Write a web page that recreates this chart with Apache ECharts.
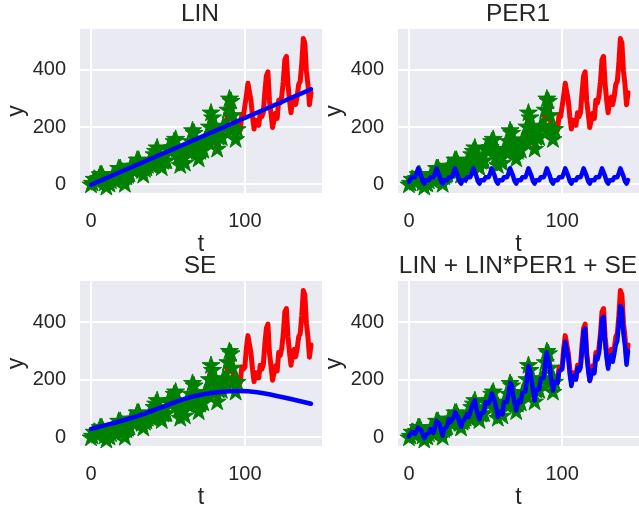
<!DOCTYPE html>
<html>
<head>
<meta charset="utf-8">
<script src="https://cdn.jsdelivr.net/npm/echarts@6/dist/echarts.min.js"></script>
<style>
  html, body { margin: 0; padding: 0; background: #fff; }
  #chart { width: 639px; height: 510px; }
</style>
</head>
<body>
<div id="chart"></div>
<script>
  // observed series (airline passengers, shifted), t = 0..143
  const observed = [
    0, 6, 20, 17, 9, 23, 36, 36, 24, 7, -8, 6,
    3, 14, 29, 23, 13, 37, 58, 58, 46, 21, 2, 28,
    33, 38, 66, 51, 60, 66, 87, 87, 72, 50, 34, 54,
    59, 68, 81, 69, 71, 106, 118, 130, 97, 79, 60, 82,
    84, 84, 124, 123, 117, 131, 152, 160, 125, 99, 68, 89,
    92, 76, 123, 115, 122, 152, 190, 181, 147, 117, 91, 117,
    130, 121, 155, 157, 158, 203, 252, 235, 200, 162, 125, 166,
    172, 165, 205, 201, 206, 262, 301, 293, 243, 194, 159, 194,
    203, 189, 244, 236, 243, 310, 353, 355, 292, 235, 193, 224,
    228, 206, 250, 236, 251, 323, 379, 393, 292, 247, 198, 225,
    248, 230, 294, 284, 308, 360, 436, 447, 351, 295, 250, 293,
    305, 279, 307, 349, 360, 423, 510, 494, 396, 349, 278, 320
  ];
  const nTrain = 96; // green stars = training part

  // predictions (blue)
  const predLinT = [0, 143];
  const predLin = [-2, 332];

  const predPer1 = [
    8, 14, 24, 20, 24, 38, 55, 52, 28, 10, 2, 14,
    18, 14, 24, 20, 24, 38, 55, 52, 28, 10, 2, 14,
    18, 14, 24, 20, 24, 38, 55, 52, 28, 10, 2, 14,
    18, 14, 24, 20, 24, 38, 55, 52, 28, 10, 2, 14,
    18, 14, 24, 20, 24, 38, 55, 52, 28, 10, 2, 14,
    18, 14, 24, 20, 24, 38, 55, 52, 28, 10, 2, 14,
    18, 14, 24, 20, 24, 38, 55, 52, 28, 10, 2, 14,
    18, 14, 24, 20, 24, 38, 55, 52, 28, 10, 2, 14,
    18, 14, 24, 20, 24, 38, 55, 52, 28, 10, 2, 14,
    18, 14, 24, 20, 24, 38, 55, 52, 28, 10, 2, 14,
    18, 14, 24, 20, 24, 38, 55, 52, 28, 10, 2, 14,
    18, 14, 24, 20, 24, 38, 55, 52, 28, 10, 2, 14
  ];

  const predSeT = [0, 12, 24, 36, 48, 60, 72, 84, 96, 108, 120, 132, 143];
  const predSe = [28, 45, 63, 84, 108, 131, 148, 157, 160, 156, 144, 130, 116];

  const predFull = [
    2, 8, 18, 16, 11, 22, 33, 34, 24, 9, -4, 7,
    5, 15, 28, 23, 15, 36, 56, 57, 45, 22, 5, 27,
    33, 39, 63, 52, 59, 67, 86, 86, 71, 50, 36, 54,
    60, 68, 80, 70, 73, 104, 118, 128, 97, 79, 62, 82,
    84, 86, 122, 121, 117, 131, 152, 158, 125, 99, 70, 89,
    92, 79, 122, 116, 122, 152, 188, 180, 146, 117, 92, 117,
    129, 122, 155, 156, 159, 202, 248, 234, 199, 162, 127, 165,
    171, 166, 203, 200, 206, 258, 295, 289, 240, 194, 162, 192,
    195, 188, 228, 226, 236, 290, 332, 335, 275, 218, 178, 205,
    215, 200, 240, 230, 242, 305, 368, 378, 285, 232, 195, 215,
    232, 222, 280, 270, 292, 345, 410, 418, 330, 278, 238, 275,
    285, 262, 290, 322, 335, 395, 456, 445, 360, 318, 252, 300
  ];

  const titles = ['LIN', 'PER1', 'SE', 'LIN + LIN*PER1 + SE'];
  const textColor = '#262626';
  const font = '"Liberation Sans", Arial, sans-serif';

  const chart = echarts.init(document.getElementById('chart'));

  const starPath = 'path://M100 0 L122.45 69.1 L195.1 69.1 L136.3 111.8 L158.8 180.9 L100 138.2 L41.2 180.9 L63.7 111.8 L4.9 69.1 L77.55 69.1 Z';

  const boxes = [
    { left: 80, top: 29, width: 242, height: 164 },
    { left: 398, top: 29, width: 242, height: 164 },
    { left: 80, top: 281, width: 242, height: 165 },
    { left: 398, top: 281, width: 242, height: 165 }
  ];

  const toPairs = (xs, ys) => ys.map((v, i) => [xs ? xs[i] : i, v]);
  const obsPairs = toPairs(null, observed);
  const trainPairs = obsPairs.slice(0, nTrain);
  const preds = [
    toPairs(predLinT, predLin),
    toPairs(null, predPer1),
    toPairs(predSeT, predSe),
    toPairs(null, predFull)
  ];

  const grid = [], xAxis = [], yAxis = [], series = [], graphic = [];
  boxes.forEach((b, i) => {
    grid.push({ left: b.left, top: b.top, width: b.width, height: b.height,
      show: true, backgroundColor: '#EAEAF2', borderWidth: 0 });
    xAxis.push({
      gridIndex: i, type: 'value', min: -7.15, max: 150.15, splitNumber: 2,
      axisLine: { show: false }, axisTick: { show: false },
      axisLabel: { color: textColor, fontSize: 20, fontFamily: font, margin: 18,
        showMinLabel: false, showMaxLabel: false },
      splitLine: { show: true, showMinLine: false, showMaxLine: false,
        lineStyle: { color: '#ffffff', width: 2 } },
      name: 't', nameLocation: 'middle', nameGap: 40,
      nameTextStyle: { color: textColor, fontSize: 23, fontFamily: font }
    });
    yAxis.push({
      gridIndex: i, type: 'value', min: -31, max: 543, splitNumber: 3,
      axisLine: { show: false }, axisTick: { show: false },
      axisLabel: { color: textColor, fontSize: 20, fontFamily: font, margin: 14,
        showMinLabel: false, showMaxLabel: false },
      splitLine: { show: true, showMinLine: false, showMaxLine: false,
        lineStyle: { color: '#ffffff', width: 2 } },
      name: 'y', nameLocation: 'middle', nameGap: 52, nameRotate: 90,
      nameTextStyle: { color: textColor, fontSize: 23, fontFamily: font }
    });
    series.push({
      type: 'line', xAxisIndex: i, yAxisIndex: i, data: obsPairs,
      showSymbol: false, lineStyle: { color: '#ff0000', width: 5, join: 'round', cap: 'round' }, z: 2
    });
    series.push({
      type: 'scatter', xAxisIndex: i, yAxisIndex: i, data: trainPairs,
      symbol: starPath, symbolSize: 18, symbolKeepAspect: true,
      itemStyle: { color: '#008000', borderColor: '#008000', borderWidth: 1, opacity: 1 }, z: 3
    });
    series.push({
      type: 'line', xAxisIndex: i, yAxisIndex: i, data: preds[i],
      smooth: i === 2, showSymbol: false,
      lineStyle: { color: '#0000ff', width: 4.5, join: 'round', cap: 'round' }, z: 4
    });
    graphic.push({
      type: 'text', x: b.left + b.width / 2 - 1, y: i < 2 ? 14 : 266,
      style: { text: titles[i], fill: textColor, fontSize: 24.5, fontFamily: font,
        align: 'center', verticalAlign: 'middle',
        textAlign: 'center', textVerticalAlign: 'middle' }
    });
  });

  chart.setOption({
    animation: false,
    textStyle: { fontFamily: font },
    grid, xAxis, yAxis, series, graphic
  });
</script>
</body>
</html>
